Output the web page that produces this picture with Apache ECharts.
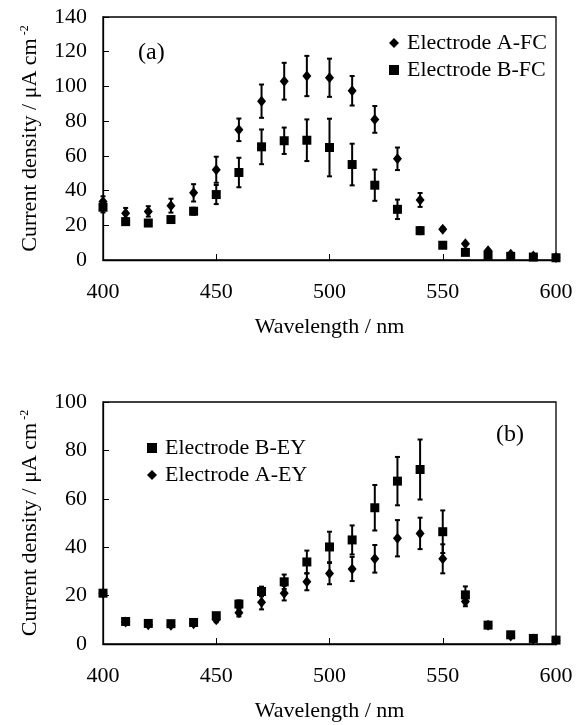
<!DOCTYPE html>
<html>
<head>
<meta charset="utf-8">
<script src="https://cdn.jsdelivr.net/npm/echarts@6/dist/echarts.min.js"></script>
<style>
html, body { margin: 0; padding: 0; background: #fff; }
#chart { width: 581px; height: 725px; }
</style>
</head>
<body>
<div id="chart"></div>
<script>
var wavelengths = [400, 410, 420, 430, 440, 450, 460, 470, 480, 490, 500, 510, 520, 530, 540, 550, 560, 570, 580, 590, 600];

// panel (a)
var aFC = [33.7, 27, 28, 31.3, 38.7, 52, 75, 91.5, 103, 106, 105, 97.5, 81, 58.3, 34.6, 17.7, 9.4, 5.4, 3.3, 2.3, 1.5];
var aFCerr = [3, 3, 3, 4, 5, 7.5, 6.5, 9.6, 10.6, 11.6, 11, 8.5, 7.7, 6.5, 4, 1, 0.5, 0.5, 0.5, 0.5, 0.5];
var bFC = [30.4, 22.1, 21.3, 23.3, 28.1, 37.7, 50.4, 65.2, 68.7, 69, 64.8, 55, 43.1, 29.2, 16.9, 8.5, 4.4, 2.7, 2.1, 1.7, 1.3];
var bFCerr = [3, 1, 1, 1, 2, 5.5, 8.5, 10, 7.6, 12, 16.6, 12, 9, 5.6, 2, 0.5, 0.5, 0.5, 0.5, 0.5, 0.5];

// panel (b)
var bEY = [21, 9.3, 8.5, 8.4, 8.9, 11.7, 16.5, 21.7, 25.7, 33.9, 40.1, 43, 56.3, 67.3, 72.1, 46.4, 20.3, 7.8, 3.8, 2.3, 1.6];
var bEYerr = [1, 0.5, 0.5, 0.5, 0.5, 1, 1.5, 2, 3, 4.7, 6.3, 6, 9.4, 10, 12.4, 8.8, 3.5, 0.5, 0.5, 0.5, 0.5];
var aEY = [21, 9.1, 8, 7.7, 8.4, 10, 12.9, 17.3, 21, 25.7, 29.1, 31, 35.2, 43.7, 45.7, 35.2, 17.6, 7.7, 3.3, 2.1, 1.5];
var aEYerr = [1, 0.5, 0.5, 0.5, 0.5, 1, 1.5, 3, 3, 3.5, 4.4, 5, 5.7, 7.5, 6.5, 6, 2, 0.5, 0.5, 0.5, 0.5];

var yTitle = '{t|Current density / \u03bcA cm}{s|-2}';
var font = 'Liberation Serif';

var chart = echarts.init(document.getElementById('chart'));

function pts(vals) {
	return wavelengths.map(function(w, i) { return [w, vals[i]]; });
}

function errPts(vals, errs) {
	return wavelengths.map(function(w, i) { return [w, vals[i], errs[i]]; });
}

function renderErr(params, api) {
	var x = api.value(0), y = api.value(1), e = api.value(2);
	var lo = api.coord([x, y - e]);
	var hi = api.coord([x, y + e]);
	var st = { stroke: '#000', lineWidth: 2 };
	return {
		type: 'group',
		children: [
			{ type: 'line', shape: { x1: lo[0], y1: lo[1], x2: hi[0], y2: hi[1] }, style: st },
			{ type: 'line', shape: { x1: lo[0] - 2.5, y1: lo[1], x2: lo[0] + 2.5, y2: lo[1] }, style: st },
			{ type: 'line', shape: { x1: hi[0] - 2.5, y1: hi[1], x2: hi[0] + 2.5, y2: hi[1] }, style: st }
		]
	};
}

function xAxis(idx) {
	return {
		type: 'value', gridIndex: idx, min: 400, max: 600, interval: 50,
		name: 'Wavelength / nm', nameLocation: 'middle', nameGap: 56,
		nameTextStyle: { fontFamily: font, fontSize: 22, color: '#000' },
		axisLine: { lineStyle: { color: '#000', width: 1.3 } },
		axisTick: { inside: true, length: 6, lineStyle: { color: '#000' } },
		axisLabel: { fontFamily: font, fontSize: 22, color: '#000', margin: 21 },
		splitLine: { show: false }
	};
}

function yAxis(idx, max) {
	return {
		type: 'value', gridIndex: idx, min: 0, max: max, interval: 20,
		name: yTitle, nameLocation: 'middle', nameGap: 62, nameRotate: 90,
		nameTextStyle: {
			color: '#000',
			rich: {
				t: { fontFamily: font, fontSize: 22, color: '#000' },
				s: { fontFamily: font, fontSize: 12, color: '#000', verticalAlign: 'top', lineHeight: 22, padding: [0, 0, 10, 3] }
			}
		},
		axisLine: { lineStyle: { color: '#000', width: 1.3 } },
		axisTick: { inside: true, length: 6, lineStyle: { color: '#000' } },
		axisLabel: { fontFamily: font, fontSize: 22, color: '#000', margin: 16 },
		splitLine: { show: false }
	};
}

var legendText = { fontFamily: font, fontSize: 22, color: '#000', padding: [0, 0, 0, 3] };

option = {
	backgroundColor: '#fff',
	animation: false,
	grid: [
		{ left: 103, top: 17, width: 453, height: 243, show: true, borderColor: '#000', borderWidth: 1.3, backgroundColor: 'transparent' },
		{ left: 103, top: 402, width: 453, height: 242, show: true, borderColor: '#000', borderWidth: 1.3, backgroundColor: 'transparent' }
	],
	xAxis: [xAxis(0), xAxis(1)],
	yAxis: [yAxis(0, 140), yAxis(1, 100)],
	legend: [
		{
			orient: 'vertical', left: 389, top: 32, padding: 0, itemGap: 5, itemWidth: 10, itemHeight: 10,
			textStyle: legendText, data: ['Electrode A-FC', 'Electrode B-FC']
		},
		{
			orient: 'vertical', left: 147, top: 437, padding: 0, itemGap: 5, itemWidth: 10, itemHeight: 10,
			textStyle: legendText, data: ['Electrode B-EY', 'Electrode A-EY']
		}
	],
	graphic: [
		{ type: 'text', left: 138, top: 41, style: { text: '(a)', font: '24px "Liberation Serif"', fill: '#000' } },
		{ type: 'text', left: 496, top: 423, style: { text: '(b)', font: '24px "Liberation Serif"', fill: '#000' } }
	],
	series: [
		{ type: 'custom', xAxisIndex: 0, yAxisIndex: 0, renderItem: renderErr, data: errPts(aFC, aFCerr), z: 1, silent: true },
		{ type: 'custom', xAxisIndex: 0, yAxisIndex: 0, renderItem: renderErr, data: errPts(bFC, bFCerr), z: 1, silent: true },
		{ name: 'Electrode A-FC', type: 'scatter', xAxisIndex: 0, yAxisIndex: 0, symbol: 'diamond', symbolSize: [9, 11], itemStyle: { color: '#000', opacity: 1 }, data: pts(aFC), z: 3 },
		{ name: 'Electrode B-FC', type: 'scatter', xAxisIndex: 0, yAxisIndex: 0, symbol: 'rect', symbolSize: 9, itemStyle: { color: '#000', opacity: 1 }, data: pts(bFC), z: 3 },
		{ type: 'custom', xAxisIndex: 1, yAxisIndex: 1, renderItem: renderErr, data: errPts(bEY, bEYerr), z: 1, silent: true },
		{ type: 'custom', xAxisIndex: 1, yAxisIndex: 1, renderItem: renderErr, data: errPts(aEY, aEYerr), z: 1, silent: true },
		{ name: 'Electrode B-EY', type: 'scatter', xAxisIndex: 1, yAxisIndex: 1, symbol: 'rect', symbolSize: 9, itemStyle: { color: '#000', opacity: 1 }, data: pts(bEY), z: 3 },
		{ name: 'Electrode A-EY', type: 'scatter', xAxisIndex: 1, yAxisIndex: 1, symbol: 'diamond', symbolSize: [9, 11], itemStyle: { color: '#000', opacity: 1 }, data: pts(aEY), z: 3 }
	]
};

chart.setOption(option);
</script>
</body>
</html>
